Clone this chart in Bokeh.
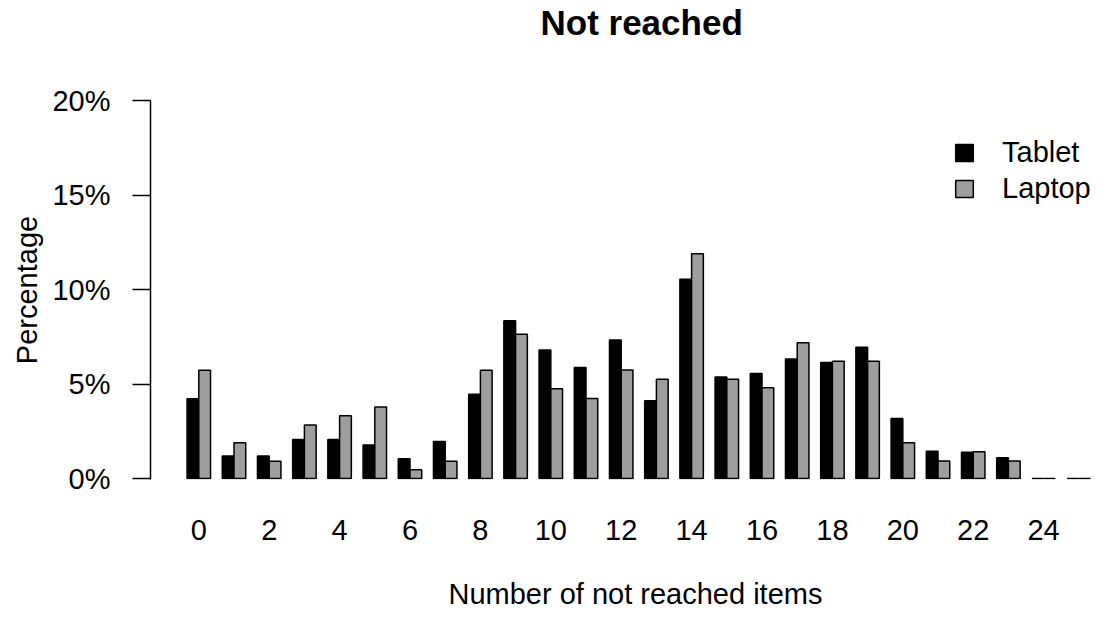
from bokeh.plotting import figure
from bokeh.models import ColumnDataSource, FixedTicker, Range1d, Legend, LegendItem, Title
from bokeh.embed import file_html
from bokeh.resources import INLINE

# ---- data ----
items = list(range(26))  # number of not reached items
tablet = [4.22, 1.19, 1.19, 2.07, 2.07, 1.78, 1.05, 1.96, 4.46, 8.35,
          6.80, 5.88, 7.33, 4.12, 10.55, 5.37, 5.56, 6.32, 6.14, 6.94,
          3.18, 1.44, 1.39, 1.10, 0.0, 0.0]
laptop = [5.73, 1.90, 0.92, 2.83, 3.32, 3.79, 0.47, 0.92, 5.73, 7.64,
          4.75, 4.24, 5.74, 5.26, 11.89, 5.26, 4.80, 7.18, 6.20, 6.20,
          1.90, 0.93, 1.42, 0.93, 0.0, 0.0]
series_names = ["Tablet", "Laptop"]
x_ticks = list(range(0, 25, 2))
x_tick_labels = [str(v) for v in x_ticks]
y_ticks = [0, 5, 10, 15, 20]
y_tick_labels = ["0%", "5%", "10%", "15%", "20%"]
title_text = "Not reached"
x_title = "Number of not reached items"
y_title = "Percentage"

FONT = "Liberation Sans"
BAR_W = 1.0 / 3.0

src = ColumnDataSource(dict(
    x_t=[i - BAR_W / 2 for i in items],
    x_l=[i + BAR_W / 2 for i in items],
    tablet=tablet,
    laptop=laptop,
))

p = figure(width=1091, height=619, output_backend="svg", toolbar_location=None,
           x_range=Range1d(-1.372, 25.36), y_range=Range1d(-0.05, 20),
           min_border_left=150, min_border_right=0, min_border_top=97,
           min_border_bottom=140)
p.outline_line_color = None
p.xgrid.visible = False
p.ygrid.visible = False

r_t = p.vbar(x="x_t", top="tablet", width=BAR_W, source=src,
             fill_color="black", line_color="black", line_width=1.5)
r_l = p.vbar(x="x_l", top="laptop", width=BAR_W, source=src,
             fill_color="#9E9E9E", line_color="black", line_width=1.5)

# y axis
ya = p.yaxis[0]
ya.ticker = FixedTicker(ticks=y_ticks)
ya.major_label_overrides = {t: l for t, l in zip(y_ticks, y_tick_labels)}
ya.major_tick_out = 18
ya.major_tick_in = 0
ya.minor_tick_out = 0
ya.minor_tick_in = 0
ya.major_tick_line_width = 1.5
ya.axis_line_width = 1.5
ya.major_label_standoff = 22
ya.major_label_text_font = FONT
ya.major_label_text_font_size = "29px"
ya.major_label_text_color = "black"

# x axis
xa = p.xaxis[0]
xa.ticker = FixedTicker(ticks=x_ticks)
xa.major_label_overrides = {t: l for t, l in zip(x_ticks, x_tick_labels)}
xa.axis_line_color = None
xa.major_tick_line_color = None
xa.minor_tick_line_color = None
xa.major_tick_out = 0
xa.major_tick_in = 0
xa.major_label_standoff = 40
xa.major_label_text_font = FONT
xa.major_label_text_font_size = "29px"
xa.major_label_text_color = "black"

# main title (spacer panel next to the frame, then the title)
p.add_layout(Title(text=" ", text_font_size="1px", standoff=56), "above")
p.add_layout(Title(text=title_text, align="left", offset=390, standoff=0,
                   vertical_align="bottom",
                   text_font=FONT, text_font_size="35px", text_font_style="bold",
                   text_color="black"), "above")
# x title
p.add_layout(Title(text=" ", text_font_size="1px", standoff=32), "below")
p.add_layout(Title(text=x_title, align="left", offset=298, standoff=0,
                   vertical_align="top",
                   text_font=FONT, text_font_size="29px", text_font_style="normal",
                   text_color="black"), "below")
# y title
p.add_layout(Title(text=y_title, align="center", standoff=14,
                   text_font=FONT, text_font_size="29px", text_font_style="normal",
                   text_color="black"), "left")

legend = Legend(items=[LegendItem(label=series_names[0], renderers=[r_t]),
                       LegendItem(label=series_names[1], renderers=[r_l])],
                location=(803, 274))
legend.border_line_color = None
legend.background_fill_alpha = 0
legend.label_text_font = FONT
legend.label_text_font_size = "29px"
legend.label_text_color = "black"
legend.glyph_width = 22
legend.glyph_height = 21
legend.label_standoff = 27
legend.spacing = 3
legend.padding = 0
legend.margin = 0
p.add_layout(legend)

open("out.html", "w").write(file_html(p, INLINE))
